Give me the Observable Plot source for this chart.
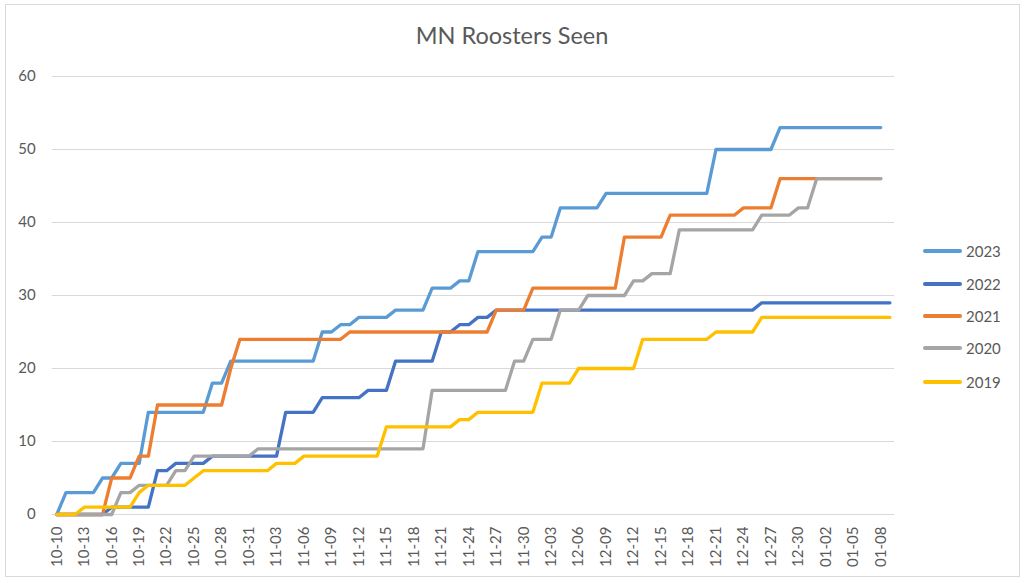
<!DOCTYPE html>
<html>
<head>
<meta charset="utf-8">
<script src="https://cdn.jsdelivr.net/npm/d3@7"></script>
<script src="https://cdn.jsdelivr.net/npm/@observablehq/plot@0.6"></script>
<style>
  html, body { margin: 0; padding: 0; background: #ffffff; }
  #wrap { position: relative; width: 1024px; height: 583px; font-family: Lato, "Open Sans", sans-serif; color: #595959; overflow: hidden; }
  #frame { position: absolute; left: 5px; top: 4px; width: 1015px; height: 573px; border: 1px solid #d9d9d9; box-sizing: border-box; }
  #chart { position: absolute; left: 0; top: 0; }
  #title { position: absolute; left: 0; width: 1024px; top: 21px; text-align: center; font-size: 23.5px; font-weight: 400; line-height: 28px; color: #595959; }
  #legend { position: absolute; left: 923px; top: 0; }
  .item { position: absolute; left: 0; width: 90px; height: 20px; white-space: nowrap; }
  .sw { position: absolute; left: 0; top: 8px; width: 39px; height: 3.5px; border-radius: 2px; }
  .lab { position: absolute; left: 43px; top: 0; font-size: 15px; line-height: 20px; color: #595959; }
  #warn { position: absolute; left: 60px; top: 90px; color: red; font-size: 14px; }
</style>
</head>
<body>
<div id="wrap">
  <div id="frame"></div>
  <div id="chart"></div>
  <div id="title">MN Roosters Seen</div>
  <div id="legend"></div>
  <div id="warn"></div>
</div>
<script>
// ---- data ----
const startDate = "2023-10-10";   // first day on the category axis
const dayCount = 92;              // 10-10 ... 01-09

const tickLabels = ["10-10","10-13","10-16","10-19","10-22","10-25","10-28","10-31",
  "11-03","11-06","11-09","11-12","11-15","11-18","11-21","11-24","11-27","11-30",
  "12-03","12-06","12-09","12-12","12-15","12-18","12-21","12-24","12-27","12-30",
  "01-02","01-05","01-08"];

const yTicks = [0, 10, 20, 30, 40, 50, 60];

const seriesNames = ["2023", "2022", "2021", "2020", "2019"];
const seriesColors = ["#5B9BD5", "#4472C4", "#ED7D31", "#A5A5A5", "#FFC000"];

const s2023 = [0,
  3,3,3,3,
  5,5,
  7,7,7,
  14,14,14,14,14,14,14,
  18,18,
  21,21,21,21,21,21,21,21,21,21,
  25,25,
  26,26,
  27,27,27,27,
  28,28,28,28,
  31,31,31,
  32,32,
  36,36,36,36,36,36,36,
  38,38,
  42,42,42,42,42,
  44,44,44,44,44,44,44,44,44,44,44,44,
  50,50,50,50,50,50,50,
  53,53,53,53,53,53,53,53,53,53,53,53];

const s2022 = [0,0,0,0,0,0,
  1,1,1,1,1,
  6,6,
  7,7,7,7,
  8,8,8,8,8,8,8,8,
  14,14,14,14,
  16,16,16,16,16,
  17,17,17,
  21,21,21,21,21,
  25,25,
  26,26,
  27,27,
  28,28,28,28,28,28,28,28,28,28,28,28,28,28,28,28,28,28,28,28,28,28,28,28,28,28,28,28,28,
  29,29,29,29,29,29,29,29,29,29,29,29,29,29,29];

const s2021 = [0,0,0,0,0,0,
  5,5,5,
  8,8,
  15,15,15,15,15,15,15,15,
  20,
  24,24,24,24,24,24,24,24,24,24,24,24,
  25,25,25,25,25,25,25,25,25,25,25,25,25,25,25,25,
  28,28,28,28,
  31,31,31,31,31,31,31,31,31,31,
  38,38,38,38,38,
  41,41,41,41,41,41,41,41,
  42,42,42,42,
  46,46,46,46,46,46,46,46,46,46,46,46];

const s2020 = [0,0,0,0,0,0,0,
  3,3,
  4,4,4,4,
  6,6,
  8,8,8,8,8,8,8,
  9,9,9,9,9,9,9,9,9,9,9,9,9,9,9,9,9,9,9,
  17,17,17,17,17,17,17,17,17,
  21,21,
  24,24,24,
  28,28,28,
  30,30,30,30,30,
  32,32,
  33,33,33,
  39,39,39,39,39,39,39,39,39,
  41,41,41,41,
  42,42,
  46,46,46,46,46,46,46,46];

const s2019 = [0,0,0,
  1,1,1,1,1,1,
  3,
  4,4,4,4,4,
  5,
  6,6,6,6,6,6,6,6,
  7,7,7,
  8,8,8,8,8,8,8,8,8,
  12,12,12,12,12,12,12,12,
  13,13,
  14,14,14,14,14,14,14,
  18,18,18,18,
  20,20,20,20,20,20,20,
  24,24,24,24,24,24,24,24,
  25,25,25,25,25,
  27,27,27,27,27,27,27,27,27,27,27,27,27,27,27];

const seriesValues = [s2023, s2022, s2021, s2020, s2019];

// ---- build ----
const fmt = d3.utcFormat("%m-%d");
const t0 = new Date(startDate + "T00:00:00Z");
const days = d3.range(dayCount).map(i => fmt(d3.utcDay.offset(t0, i)));

const warn = [];
seriesValues.forEach((arr, i) => { if (arr.length !== 91 && arr.length !== 92) warn.push(seriesNames[i] + ":" + arr.length); });
document.getElementById("warn").textContent = warn.join("  ");

const lineMarks = seriesNames.map((name, i) =>
  Plot.line(seriesValues[i].map((v, j) => ({day: days[j], value: v})), {
    x: "day", y: "value",
    stroke: seriesColors[i], strokeWidth: 3.3,
    strokeLinejoin: "round", strokeLinecap: "round"
  })
);

const chart = Plot.plot({
  width: 1024,
  height: 583,
  marginLeft: 51.7,
  marginRight: 130,
  marginTop: 76,
  marginBottom: 69,
  style: {fontFamily: "Lato, 'Open Sans', sans-serif", fontSize: "15px", color: "#595959", background: "transparent", overflow: "visible"},
  x: {type: "point", domain: days, padding: 0.5, align: 0.5, round: false},
  y: {domain: [0, 60]},
  marks: [
    Plot.gridY(yTicks, {stroke: "#d9d9d9", strokeOpacity: 1, strokeWidth: 1.2}),
    Plot.axisY(yTicks, {tickSize: 0, tickPadding: 16.5, label: null, fill: "#595959"}),
    Plot.axisX(tickLabels, {tickSize: 0, tickRotate: -90, tickPadding: 12, label: null, fill: "#595959"}),
    ...lineMarks
  ]
});
document.getElementById("chart").appendChild(chart);

// legend
const legendY = [251, 284, 316, 348, 382];
const legend = document.getElementById("legend");
seriesNames.forEach((name, i) => {
  const item = document.createElement("div");
  item.className = "item";
  item.style.top = (legendY[i] - 10) + "px";
  const sw = document.createElement("div");
  sw.className = "sw";
  sw.style.background = seriesColors[i];
  const lab = document.createElement("div");
  lab.className = "lab";
  lab.textContent = name;
  item.appendChild(sw);
  item.appendChild(lab);
  legend.appendChild(item);
});
</script>
</body>
</html>
